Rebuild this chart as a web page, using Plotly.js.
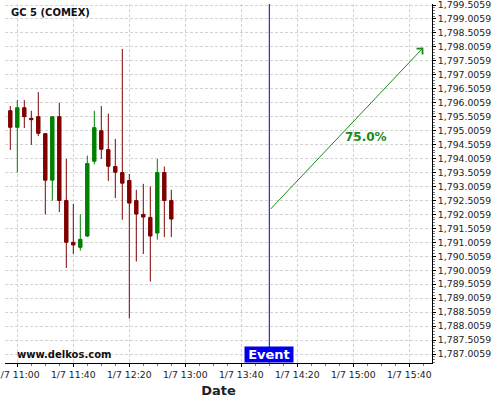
<!DOCTYPE html>
<html>
<head>
<meta charset="utf-8">
<script src="https://cdn.plot.ly/plotly-3.0.1.min.js"></script>
<style>html,body{margin:0;padding:0;background:#fff;}#chart{width:500px;height:400px;}</style>
</head>
<body>
<div id="chart"></div>
<script>
const times = [
  '2021-01-07 10:55','2021-01-07 11:00','2021-01-07 11:05','2021-01-07 11:10',
  '2021-01-07 11:15','2021-01-07 11:20','2021-01-07 11:25','2021-01-07 11:30',
  '2021-01-07 11:35','2021-01-07 11:40','2021-01-07 11:45','2021-01-07 11:50',
  '2021-01-07 11:55','2021-01-07 12:00','2021-01-07 12:05','2021-01-07 12:10',
  '2021-01-07 12:15','2021-01-07 12:20','2021-01-07 12:25','2021-01-07 12:30',
  '2021-01-07 12:35','2021-01-07 12:40','2021-01-07 12:45','2021-01-07 12:50'
];
const openVals  = [1795.720,1795.125,1795.827,1795.446,1795.506,1794.899,1793.232,1795.506,1792.506,1791.006,1790.827,1791.232,1793.911,1795.006,1794.327,1793.720,1793.506,1793.220,1792.506,1792.006,1791.899,1791.339,1793.506,1792.506];
const highVals  = [1795.887,1796.101,1796.101,1795.720,1796.387,1794.899,1795.506,1796.006,1793.994,1792.387,1792.006,1794.113,1795.720,1795.887,1795.613,1794.708,1797.935,1793.458,1792.887,1793.101,1793.006,1793.994,1793.720,1792.887];
const lowVals   = [1794.315,1793.506,1795.101,1794.494,1794.815,1792.006,1792.494,1792.089,1790.089,1790.589,1790.708,1791.196,1793.804,1793.994,1793.208,1792.589,1791.816,1788.280,1790.316,1790.589,1789.601,1791.101,1791.196,1791.196];
const closeVals = [1795.125,1795.827,1795.506,1795.399,1794.911,1793.232,1795.506,1792.506,1791.006,1790.911,1791.113,1793.827,1795.113,1794.339,1793.732,1793.518,1793.125,1792.411,1792.018,1791.911,1791.232,1793.506,1792.506,1791.839];

const eventTime = '2021-01-07 14:00';
const arrowStart = {x: '2021-01-07 14:00', y: 1792.149};
const arrowEnd = {x: '2021-01-07 15:50', y: 1797.98};
const labelPos = {x: '2021-01-07 15:09', y: 1794.78};
const pctLabel = '75.0%';
const titleText = 'GC 5 (COMEX)';
const watermark = 'www.delkos.com';
const eventLabel = 'Event';

const trace = {
  type: 'candlestick',
  x: times, open: openVals, high: highVals, low: lowVals, close: closeVals,
  increasing: {line: {color: '#008000', width: 1}, fillcolor: '#008000'},
  decreasing: {line: {color: '#800000', width: 1}, fillcolor: '#800000'},
  whiskerwidth: 0,
  hoverinfo: 'skip',
  showlegend: false
};

const font = 'DejaVu Sans, sans-serif';
const gridStyle = {gridcolor: '#d3d3d3', griddash: '3px,2px', gridwidth: 1};

const layout = {
  width: 500, height: 400,
  margin: {l: 5, r: 68, t: 4, b: 37},
  paper_bgcolor: '#fff', plot_bgcolor: '#fff',
  font: {family: font, size: 9, color: '#222'},
  showlegend: false,
  xaxis: Object.assign({
    type: 'date',
    range: ['2021-01-07 10:51:13', '2021-01-07 15:56:13'],
    rangeslider: {visible: false},
    tick0: '2021-01-07 11:00', dtick: 40*60*1000,
    tickformat: '%-m/%-d %H:%M',
    ticklabeloverflow: 'allow',
    ticks: 'outside', ticklen: 3, tickcolor: '#000',
    minor: {dtick: 10*60*1000, ticks: 'outside', ticklen: 2, tickcolor: '#777', showgrid: false},
    showline: true, linecolor: '#000', linewidth: 1,
    zeroline: false,
    tickfont: {size: 9.3, family: font, color: '#222'},
    title: {text: 'Date', font: {size: 13, family: font, color: '#222', weight: 'bold'}, standoff: 6},
    fixedrange: true
  }, gridStyle),
  yaxis: Object.assign({
    side: 'right',
    range: [1786.684, 1799.542],
    tick0: 1787.0059, dtick: 0.5,
    tickformat: ',.4f',
    ticklabeloverflow: 'allow',
    ticks: 'outside', ticklen: 3, tickcolor: '#000',
    minor: {nticks: 5, ticks: 'outside', ticklen: 2, tickcolor: '#777', showgrid: false},
    showline: true, linecolor: '#000', linewidth: 1,
    zeroline: false,
    tickfont: {size: 9.3, family: font, color: '#222'},
    fixedrange: true
  }, gridStyle),
  shapes: [
    {type: 'line', xref: 'x', yref: 'paper', x0: eventTime, x1: eventTime, y0: 0, y1: 1,
     line: {color: '#0000cc', width: 1}}
  ],
  annotations: [
    {xref: 'x', yref: 'y', axref: 'x', ayref: 'y',
     x: arrowEnd.x, y: arrowEnd.y, ax: arrowStart.x, ay: arrowStart.y,
     showarrow: true, arrowhead: 4, arrowsize: 1.6, arrowwidth: 1, arrowcolor: '#1a8a1a', text: ''},
    {xref: 'x', yref: 'y', x: labelPos.x, y: labelPos.y, text: pctLabel, showarrow: false,
     font: {size: 12, family: font, color: '#1a8a1a', weight: 'bold'}, xanchor: 'center', yanchor: 'middle'},
    {xref: 'paper', yref: 'paper', x: 0.01, y: 0.975, xanchor: 'left', yanchor: 'middle',
     text: titleText, showarrow: false, font: {size: 10, family: font, color: '#111', weight: 'bold'}},
    {xref: 'paper', yref: 'paper', x: 0.023, y: 0.025, xanchor: 'left', yanchor: 'middle',
     text: watermark, showarrow: false, font: {size: 10, family: font, color: '#111', weight: 'bold'}},
    {xref: 'x', yref: 'paper', x: eventTime, y: 0, xanchor: 'center', yanchor: 'bottom',
     text: eventLabel, showarrow: false, bgcolor: '#0000ee', borderpad: 0, width: 48, height: 15,
     font: {size: 13, family: font, color: '#fff', weight: 'bold'}}
  ]
};

Plotly.newPlot('chart', [trace], layout, {staticPlot: true, displayModeBar: false});
</script>
</body>
</html>
